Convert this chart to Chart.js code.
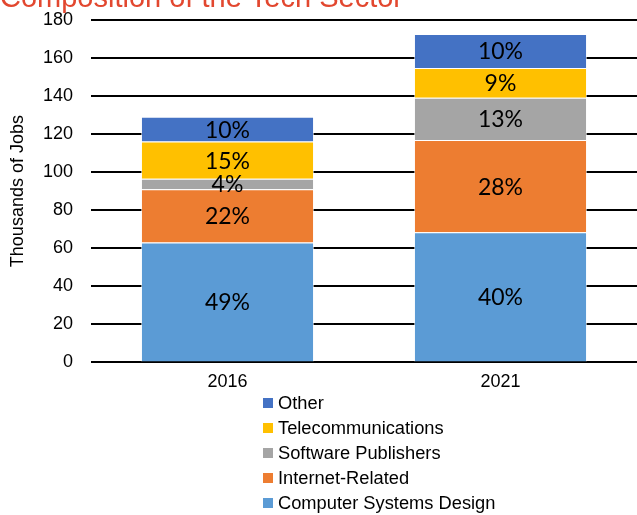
<!DOCTYPE html>
<html lang="en">
<head>
    <title>Composition of the Tech Sector</title>
    <script src="https://cdn.jsdelivr.net/npm/chart.js"></script>
    <style>
        body {
            margin: 0;
            background: #ffffff;
            width: 637px;
            height: 515px;
            overflow: hidden;
            position: relative;
            font-family: 'Liberation Sans', Arial, sans-serif;
        }
        .chart-wrap {
            position: absolute;
            left: 0;
            top: -18px;
            width: 637px;
            height: 412px;
        }
        .legend {
            position: absolute;
            left: 263px;
            top: 390px;
        }
        .legend-item {
            display: flex;
            align-items: center;
            height: 25px;
            font-size: 18.3px;
            color: #000;
        }
        .legend-color {
            width: 10px;
            height: 10px;
            margin-right: 5px;
        }
    </style>
</head>
<body>
    <div class="chart-wrap"><canvas id="techChart"></canvas></div>
    <div class="legend" id="legend"></div>

    <script>
        // datos (miles de empleos)
        const years = ['2016', '2021'];
        const computerSystems = [63, 68.4];
        const internetRelated = [28, 48.4];
        const softwarePublishers = [5.5, 22.2];
        const telecom = [19.5, 15.7];
        const other = [13, 17.9];
        const yTicks = [0, 20, 40, 60, 80, 100, 120, 140, 160, 180];

        const series = [
            { label: 'Computer Systems Design', data: computerSystems, color: '#5B9BD5' },
            { label: 'Internet-Related', data: internetRelated, color: '#ED7D31' },
            { label: 'Software Publishers', data: softwarePublishers, color: '#A5A5A5' },
            { label: 'Telecommunications', data: telecom, color: '#FFC000' },
            { label: 'Other', data: other, color: '#4472C4' }
        ];

        const totals = years.map((y, i) => series.reduce((s, d) => s + d.data[i], 0));
        const axisFont = '"Liberation Sans", Arial, sans-serif';

        // porcentajes dentro de cada barra
        const pctLabels = {
            id: 'pctLabels',
            afterDatasetsDraw(chart) {
                const c = chart.ctx;
                c.save();
                c.font = '23px Lato, "Open Sans", sans-serif';
                c.fillStyle = '#000';
                c.textAlign = 'center';
                c.textBaseline = 'middle';
                chart.data.datasets.forEach((ds, di) => {
                    chart.getDatasetMeta(di).data.forEach((bar, i) => {
                        const pct = Math.round(ds.data[i] / totals[i] * 100) + '%';
                        c.fillText(pct, bar.x, (bar.y + bar.base) / 2 + 1);
                    });
                });
                c.restore();
            }
        };

        const chart = new Chart(document.getElementById('techChart'), {
            type: 'bar',
            data: {
                labels: years,
                datasets: series.map(s => ({
                    label: s.label,
                    data: s.data,
                    backgroundColor: s.color,
                    borderColor: 'rgba(255,255,255,0.6)',
                    borderWidth: 1,
                    categoryPercentage: 0.634,
                    barPercentage: 1
                }))
            },
            options: {
                responsive: true,
                maintainAspectRatio: false,
                animation: false,
                layout: { padding: 0 },
                plugins: {
                    legend: { display: false },
                    tooltip: { enabled: false },
                    title: {
                        display: true,
                        text: 'Composition of the Tech Sector',
                        align: 'start',
                        color: '#E2472F',
                        font: { size: 29, family: axisFont, weight: 'normal' },
                        padding: { top: 0, bottom: 3 }
                    }
                },
                scales: {
                    x: {
                        stacked: true,
                        grid: { display: false },
                        border: { display: false },
                        ticks: {
                            color: '#000',
                            padding: 1,
                            font: { size: 18, family: axisFont }
                        }
                    },
                    y: {
                        stacked: true,
                        min: 0,
                        max: 180,
                        afterBuildTicks: axis => { axis.ticks = yTicks.map(v => ({ value: v })); },
                        afterFit: axis => { axis.width = 91; },
                        grid: { color: '#000', lineWidth: 2, drawTicks: false },
                        border: { display: false },
                        ticks: {
                            color: '#000',
                            padding: 18,
                            font: { size: 18, family: axisFont }
                        },
                        title: {
                            display: true,
                            text: 'Thousands of Jobs',
                            color: '#000',
                            padding: { top: 7, bottom: 0 },
                            font: { size: 18, family: axisFont }
                        }
                    }
                }
            },
            plugins: [pctLabels]
        });

        // leyenda vertical, orden inverso
        const legend = document.getElementById('legend');
        series.slice().reverse().forEach(s => {
            const item = document.createElement('div');
            item.className = 'legend-item';
            item.innerHTML = `<div class="legend-color" style="background:${s.color};"></div><span>${s.label}</span>`;
            legend.appendChild(item);
        });
    </script>
</body>
</html>
